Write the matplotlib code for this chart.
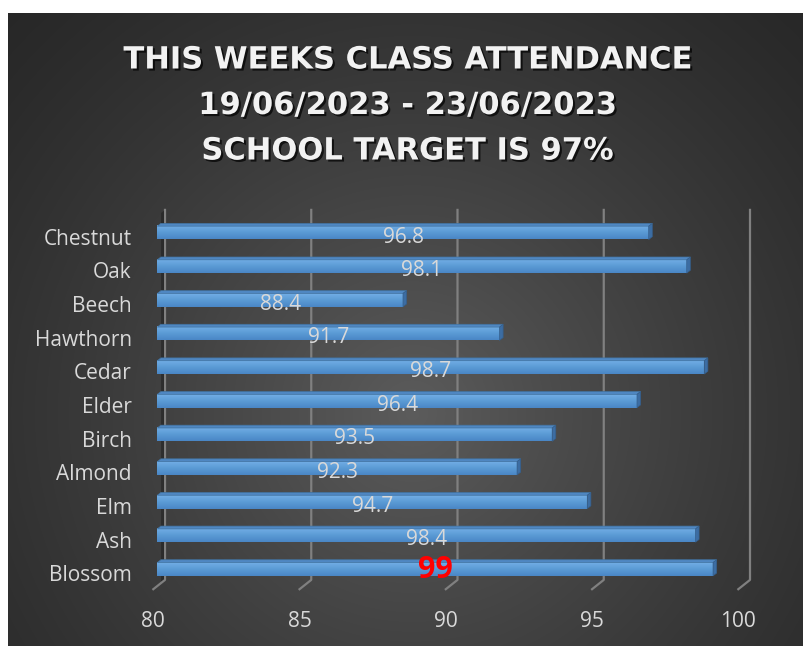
import numpy as np
import matplotlib
matplotlib.use("Agg")
import matplotlib.pyplot as plt
import matplotlib.patheffects as pe
from matplotlib.patches import Polygon
from matplotlib.lines import Line2D
from matplotlib.transforms import ScaledTranslation, IdentityTransform

classes = ["Blossom", "Ash", "Elm", "Almond", "Birch", "Elder",
           "Cedar", "Hawthorn", "Beech", "Oak", "Chestnut"]
attendance = [99, 98.4, 94.7, 92.3, 93.5, 96.4, 98.7, 91.7, 88.4, 98.1, 96.8]
x_ticks = [80, 85, 90, 95, 100]
title_lines = ["THIS WEEKS CLASS ATTENDANCE",
               "19/06/2023 - 23/06/2023",
               "SCHOOL TARGET IS 97%"]
highlight = "Blossom"

W, H = 804, 646
fig = plt.figure(figsize=(W / 100, H / 100), dpi=100)
fig.patch.set_facecolor("white")

# dark panel with a soft radial gradient
bg = fig.add_axes([8 / W, 0, 1 - 8 / W, (H - 13) / H])
bg.set_axis_off()
yy, xx = np.mgrid[0:633, 0:796]
r = np.hypot(xx - 404, yy - 400)
light = 0.15 + 0.21 * np.clip(1 - r / 600, 0, 1) ** 1.3
bg.imshow(np.dstack([light] * 3), aspect="auto", interpolation="bilinear")

ax = fig.add_axes([157.3 / W, 60 / H, 585 / W, 370 / H])
ax.set_xlim(x_ticks[0], x_ticks[-1])
ax.set_ylim(-0.5, len(classes) - 0.5)
ax.set_axis_off()
ax.patch.set_alpha(0)

ident = IdentityTransform()


def px(x, y):
    return ax.transData.transform((x, y))


back = np.array([7.7, 6.1])
front = np.array([-4.0, -3.2])

# left wall shadow
b0 = px(80, -0.5)
t0 = px(80, len(classes) - 0.5)
for w, a in [(11.7, 0.25), (6, 0.25), (2.5, 0.3)]:
    f = front * w / 11.7
    wall = [b0 + back, t0 + back, t0 + back + f, b0 + back + f]
    ax.add_patch(Polygon(wall, closed=True, transform=ident, facecolor="black",
                         edgecolor="none", alpha=a, clip_on=False, zorder=1))

# back-wall gridlines with floor
for x in x_ticks:
    bot = px(x, -0.5)
    top = px(x, len(classes) - 0.5)
    xs = [bot[0] + front[0], bot[0] + back[0], top[0] + back[0]]
    ys = [bot[1] + front[1], bot[1] + back[1], top[1] + back[1]]
    ax.add_line(Line2D(xs, ys, transform=ident, color="#808080", lw=1.6,
                       clip_on=False, zorder=1.5))

# 3d bars
h = 0.396
depth = np.array([3.6, 2.8])
grad = np.linspace(0, 1, 32).reshape(-1, 1)
cmap = matplotlib.colors.LinearSegmentedColormap.from_list(
    "bar", ["#4a87c6", "#5b9bd5", "#73aee6"])
for i, (name, v) in enumerate(zip(classes, attendance)):
    ax.barh(i, v - 80, left=80, height=h, color="#5b9bd5", zorder=3)
    ax.imshow(grad, extent=[80, v, i - h / 2, i + h / 2], cmap=cmap,
              aspect="auto", origin="lower", zorder=3.1)
    p0 = px(80, i + h / 2)
    p1 = px(v, i + h / 2)
    p2 = px(v, i - h / 2)
    ax.add_patch(Polygon([p0, p1, p1 + depth, p0 + depth], transform=ident,
                         facecolor="#4f87c2", edgecolor="#41729f", lw=0.5,
                         clip_on=False, zorder=3.2))
    ax.add_patch(Polygon([p2, p1, p1 + depth, p2 + depth], transform=ident,
                         facecolor="#3c6da3", edgecolor="#355f8c", lw=0.5,
                         clip_on=False, zorder=3.2))

ax.set_xlim(x_ticks[0], x_ticks[-1])
ax.set_ylim(-0.5, len(classes) - 0.5)

font = "Open Sans"
lab_col = "#d9d9d9"


def shift(dx, dy, base=None):
    return (base or ax.transData) + ScaledTranslation(dx / 100, dy / 100, fig.dpi_scale_trans)


for i, (name, v) in enumerate(zip(classes, attendance)):
    ax.text(80, i, name, ha="right", va="baseline", fontsize=15, family=font,
            color=lab_col, transform=shift(-25.5, -12), clip_on=False)
    if name == highlight:
        ax.text((80 + v) / 2, i, f"{v:g}", ha="center", va="baseline",
                fontsize=22, fontweight="bold", family=font, color="#ff0000",
                transform=shift(0, -9), zorder=5)
    else:
        ax.text((80 + v) / 2, i, f"{v:g}", ha="center", va="baseline",
                fontsize=15, family=font, color=lab_col,
                transform=shift(0, -9.7), zorder=5)

for x in x_ticks:
    ax.text(x, 0, str(x), ha="center", va="baseline", fontsize=15, family=font,
            color=lab_col, transform=shift(-4, -41, ax.get_xaxis_transform()),
            clip_on=False)

title_fx = [pe.SimplePatchShadow(offset=(1.5, -1.5), shadow_rgbFace="black", alpha=0.7),
            pe.Normal()]
for k, line in enumerate(title_lines):
    fig.text(407 / W, 1 - (68.5 + 45.5 * k) / H, line, ha="center", va="baseline",
             fontsize=22, fontweight="bold", family="DejaVu Sans", color="#f2f2f2",
             path_effects=title_fx)

fig.savefig("out.png", dpi=100, facecolor=fig.get_facecolor())
